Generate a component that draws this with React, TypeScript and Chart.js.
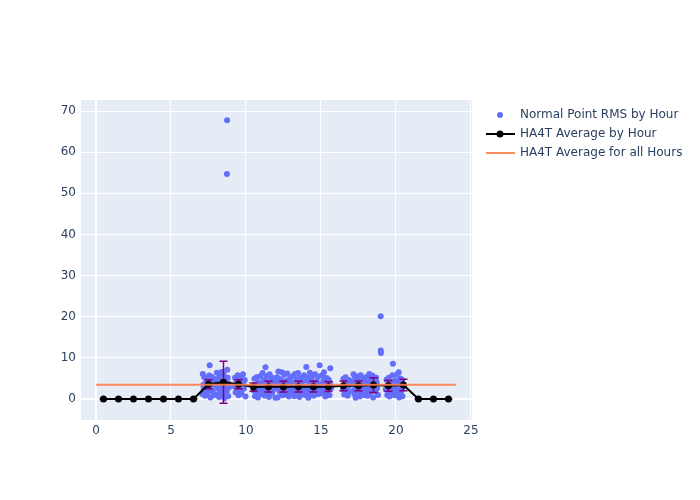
import React, { useEffect, useRef } from "react";
import { Chart, registerables } from "chart.js";

Chart.register(...registerables);

// ---- Data ----
const rmsHours: number[] = [
  // hour 7
  7.08, 7.12, 7.18, 7.22, 7.27, 7.31, 7.36, 7.41, 7.45, 7.5, 7.55, 7.58, 7.63, 7.68, 7.72, 7.78, 7.83, 7.9,
  7.15, 7.34, 7.52, 7.7, 7.86,
  // hour 8
  7.97, 8.02, 8.06, 8.11, 8.15, 8.2, 8.24, 8.29, 8.33, 8.38, 8.42, 8.47, 8.51, 8.56, 8.6, 8.64, 8.69, 8.72, 8.75, 8.78, 8.82, 8.86,
  8.09, 8.27, 8.44, 8.62, 8.8,
  8.74, 8.73,
  // hour 9
  9.22, 9.27, 9.31, 9.36, 9.4, 9.45, 9.5, 9.55, 9.6, 9.65, 9.7, 9.75, 9.8, 9.86, 9.92, 9.97,
  9.34, 9.58, 9.83,
  // hour 10
  10.52, 10.56, 10.6, 10.64, 10.68, 10.72, 10.76, 10.8, 10.84, 10.88, 10.93, 10.97,
  10.62, 10.82,
  // hour 11
  11.02, 11.07, 11.11, 11.16, 11.2, 11.25, 11.3, 11.34, 11.39, 11.43, 11.48, 11.53, 11.58, 11.63, 11.68, 11.73, 11.78, 11.84, 11.9, 11.96,
  11.05, 11.22, 11.37, 11.55, 11.71, 11.88,
  // hour 12
  12.02, 12.07, 12.12, 12.16, 12.21, 12.26, 12.3, 12.35, 12.4, 12.45, 12.5, 12.55, 12.6, 12.65, 12.7, 12.75, 12.8, 12.86, 12.91, 12.96,
  12.09, 12.24, 12.42, 12.58, 12.77, 12.93,
  // hour 13
  13.02, 13.07, 13.12, 13.17, 13.22, 13.27, 13.32, 13.37, 13.42, 13.47, 13.52, 13.57, 13.62, 13.67, 13.72, 13.77, 13.82, 13.87, 13.92, 13.97,
  13.1, 13.29, 13.45, 13.6, 13.79, 13.95,
  // hour 14
  14.02, 14.06, 14.11, 14.16, 14.21, 14.26, 14.31, 14.36, 14.41, 14.46, 14.51, 14.56, 14.61, 14.66, 14.71, 14.76, 14.81, 14.86, 14.91, 14.96,
  14.08, 14.24, 14.43, 14.59, 14.74, 14.89,
  // hour 15
  15.02, 15.06, 15.11, 15.15, 15.2, 15.24, 15.29, 15.33, 15.38, 15.42, 15.47, 15.52, 15.57, 15.62, 15.67,
  15.09, 15.27, 15.45, 15.6,
  // hour 16
  16.46, 16.5, 16.55, 16.59, 16.64, 16.68, 16.73, 16.78, 16.83, 16.88,
  16.53, 16.71, 16.86,
  // hour 17
  17.12, 17.17, 17.22, 17.27, 17.31, 17.36, 17.41, 17.46, 17.5, 17.55, 17.6, 17.65, 17.7, 17.75, 17.8, 17.85, 17.9, 17.95,
  17.2, 17.39, 17.58, 17.77, 17.92,
  // hour 18
  18.02, 18.07, 18.12, 18.17, 18.22, 18.27, 18.33, 18.38, 18.43, 18.48, 18.53, 18.58, 18.63, 18.68, 18.74, 18.8,
  18.1, 18.3, 18.5, 18.71,
  18.98, 18.99, 19.0,
  // hour 19
  19.32, 19.37, 19.42, 19.47, 19.52, 19.57, 19.62, 19.67, 19.72, 19.77, 19.8, 19.85, 19.9, 19.95,
  19.4, 19.6, 19.83,
  // hour 20
  20.02, 20.06, 20.1, 20.14, 20.18, 20.22, 20.26, 20.3, 20.34, 20.38, 20.43, 20.48,
  20.08, 20.24, 20.41,
];

const rmsValues: number[] = [
  // hour 7
  1.2, 6.1, 2.4, 5.3, 0.8, 3.9, 2.7, 4.6, 1.6, 3.2, 5.7, 8.2, 0.4, 2.9, 4.1, 1.9, 5.0, 3.5,
  3.4, 1.1, 2.2, 5.4, 0.9,
  // hour 8
  4.8, 1.1, 6.4, 2.6, 3.7, 0.5, 5.5, 2.0, 4.3, 6.6, 1.4, 3.0, 5.9, 0.2, 2.3, 4.9, 3.4, 1.8, 7.1, 5.2, 0.7, 2.8,
  4.0, 3.6, 2.4, 1.2, 3.9,
  67.8, 54.7,
  // hour 9
  3.1, 5.2, 1.6, 4.4, 2.2, 5.8, 0.9, 3.6, 2.8, 4.9, 1.3, 3.9, 6.0, 2.5, 4.6, 0.6,
  3.3, 1.9, 4.2,
  // hour 10
  2.1, 4.9, 0.7, 3.4, 1.5, 5.3, 2.8, 0.4, 4.1, 1.9, 3.0, 5.6,
  2.5, 3.7,
  // hour 11
  3.6, 1.2, 6.3, 2.5, 4.7, 0.8, 7.7, 3.1, 5.6, 1.9, 4.2, 0.5, 6.0, 2.8, 3.9, 1.4, 5.1, 2.2, 4.5, 0.3,
  2.0, 3.3, 1.0, 3.5, 4.8, 2.9,
  // hour 12
  2.6, 5.3, 0.4, 6.7, 3.5, 1.7, 4.8, 2.9, 6.5, 0.9, 3.8, 5.9, 2.2, 4.4, 1.1, 6.2, 3.2, 0.6, 4.9, 2.4,
  3.9, 2.8, 1.6, 3.1, 4.1, 1.4,
  // hour 13
  4.1, 1.5, 5.6, 2.9, 0.7, 6.1, 3.4, 4.8, 1.9, 6.3, 2.5, 0.5, 5.1, 3.7, 1.2, 4.5, 2.2, 5.8, 3.0, 0.9,
  2.7, 1.8, 3.9, 1.4, 3.2, 4.6,
  // hour 14
  7.8, 2.3, 5.2, 0.3, 3.9, 6.4, 1.6, 4.6, 2.8, 5.7, 0.8, 3.3, 6.0, 2.0, 4.3, 1.2, 5.4, 3.6, 8.2, 2.7,
  1.5, 3.1, 1.9, 2.5, 3.4, 1.3,
  // hour 15
  3.1, 5.8, 1.4, 4.4, 6.5, 2.3, 0.6, 3.8, 5.1, 1.9, 3.3, 4.7, 0.9, 7.5, 2.6,
  2.9, 1.8, 2.2, 4.0,
  // hour 16
  2.4, 4.9, 1.1, 3.6, 5.3, 2.0, 4.2, 0.8, 3.1, 4.6,
  3.0, 2.7, 1.7,
  // hour 17
  3.8, 6.0, 1.2, 4.9, 0.3, 2.7, 5.5, 3.4, 1.8, 4.4, 0.6, 5.8, 2.5, 3.9, 1.4, 5.1, 2.9, 4.2,
  2.2, 4.1, 3.0, 1.9, 0.9,
  // hour 18
  2.2, 5.4, 0.8, 3.7, 6.1, 1.5, 4.5, 2.9, 5.7, 0.4, 3.3, 4.8, 1.9, 5.2, 2.6, 1.0,
  3.1, 2.1, 3.9, 4.0,
  20.1, 11.8, 11.2,
  // hour 19
  2.3, 4.7, 1.0, 3.5, 5.2, 0.6, 2.9, 4.2, 1.7, 5.8, 8.6, 3.1, 0.9, 4.5,
  3.0, 2.0, 2.6,
  // hour 20
  3.2, 5.9, 1.3, 4.4, 6.5, 0.4, 2.6, 5.0, 1.8, 3.8, 0.7, 2.9,
  2.2, 3.6, 4.6,
];

const avgHours: number[] = [
  0.5, 1.5, 2.5, 3.5, 4.5, 5.5, 6.5, 7.5, 8.5, 9.5, 10.5, 11.5,
  12.5, 13.5, 14.5, 15.5, 16.5, 17.5, 18.5, 19.5, 20.5, 21.5, 22.5, 23.5,
];
const avgValues: number[] = [
  0, 0, 0, 0, 0, 0, 0, 3.6, 4.1, 3.6, 2.9, 3.0,
  3.0, 3.0, 3.0, 3.0, 3.2, 3.2, 3.4, 3.2, 3.4, 0, 0, 0,
];
const avgErrors: number[] = [
  0, 0, 0, 0, 0, 0, 0, 1.1, 5.1, 1.1, 1.0, 1.3,
  1.3, 1.3, 1.3, 1.2, 1.2, 1.2, 1.8, 1.3, 1.4, 0, 0, 0,
];

const overallHours: number[] = [0, 24];
const overallValue = 3.45;

const xTicks: number[] = [0, 5, 10, 15, 20, 25];
const yTicks: number[] = [0, 10, 20, 30, 40, 50, 60, 70];

const legendLabels: string[] = [
  "Normal Point RMS by Hour",
  "HA4T Average by Hour",
  "HA4T Average for all Hours",
];

// ---- Styles ----
const FONT = "'DejaVu Sans', sans-serif";
const TEXT_COLOR = "#2a3f5f";
const SCATTER_COLOR = "#636EFA";
const ERR_COLOR = "#800080";
const OVERALL_COLOR = "rgba(255,127,80,0.9)";

export default function App() {
  const canvasRef = useRef<HTMLCanvasElement | null>(null);

  useEffect(() => {
    document.body.style.margin = "0";
    const canvas = canvasRef.current;
    if (!canvas) return;

    const bgPlugin = {
      id: "plotBg",
      beforeDraw(chart: any) {
        const { ctx, chartArea } = chart;
        ctx.save();
        ctx.fillStyle = "#ffffff";
        ctx.fillRect(0, 0, chart.width, chart.height);
        ctx.fillStyle = "#E5ECF6";
        ctx.fillRect(chartArea.left, chartArea.top, chartArea.right - chartArea.left, chartArea.bottom - chartArea.top);
        ctx.restore();
      },
    };

    const errPlugin = {
      id: "errBars",
      beforeDatasetDraw(chart: any, args: any) {
        if (args.index !== 1) return;
        const { ctx, chartArea } = chart;
        const xs = chart.scales.x;
        const ys = chart.scales.y;
        ctx.save();
        ctx.beginPath();
        ctx.rect(chartArea.left, chartArea.top, chartArea.right - chartArea.left, chartArea.bottom - chartArea.top);
        ctx.clip();
        ctx.strokeStyle = ERR_COLOR;
        ctx.lineWidth = 1.5;
        const half = 4;
        avgHours.forEach((h, i) => {
          const px = xs.getPixelForValue(h);
          const top = ys.getPixelForValue(avgValues[i] + avgErrors[i]);
          const bot = ys.getPixelForValue(avgValues[i] - avgErrors[i]);
          ctx.beginPath();
          ctx.moveTo(px, top);
          ctx.lineTo(px, bot);
          ctx.moveTo(px - half, top);
          ctx.lineTo(px + half, top);
          ctx.moveTo(px - half, bot);
          ctx.lineTo(px + half, bot);
          ctx.stroke();
        });
        ctx.restore();
      },
    };

    const legendPlugin = {
      id: "customLegend",
      afterDraw(chart: any) {
        const { ctx } = chart;
        ctx.save();
        ctx.font = `12px ${FONT}`;
        ctx.textBaseline = "middle";
        ctx.textAlign = "left";
        const ys = [115, 134, 153];
        ctx.fillStyle = SCATTER_COLOR;
        ctx.beginPath();
        ctx.arc(500, ys[0], 3, 0, Math.PI * 2);
        ctx.fill();
        ctx.strokeStyle = "#000000";
        ctx.lineWidth = 2;
        ctx.beginPath();
        ctx.moveTo(486, ys[1]);
        ctx.lineTo(515, ys[1]);
        ctx.stroke();
        ctx.fillStyle = "#000000";
        ctx.beginPath();
        ctx.arc(500, ys[1], 3.5, 0, Math.PI * 2);
        ctx.fill();
        ctx.strokeStyle = OVERALL_COLOR;
        ctx.beginPath();
        ctx.moveTo(486, ys[2]);
        ctx.lineTo(515, ys[2]);
        ctx.stroke();
        ctx.fillStyle = TEXT_COLOR;
        legendLabels.forEach((t, i) => ctx.fillText(t, 520, ys[i]));
        ctx.restore();
      },
    };

    const chart = new Chart(canvas, {
      type: "scatter",
      data: {
        datasets: [
          {
            label: legendLabels[2],
            type: "line",
            data: overallHours.map((h) => ({ x: h, y: overallValue })),
            borderColor: OVERALL_COLOR,
            borderWidth: 2,
            pointRadius: 0,
            showLine: true,
            fill: false,
            order: 1,
          } as any,
          {
            label: legendLabels[1],
            type: "line",
            data: avgHours.map((h, i) => ({ x: h, y: avgValues[i] })),
            borderColor: "#000000",
            backgroundColor: "#000000",
            borderWidth: 2,
            pointRadius: 3.5,
            pointBorderWidth: 0,
            showLine: true,
            fill: false,
            tension: 0,
            order: 2,
          } as any,
          {
            label: legendLabels[0],
            data: rmsHours.map((h, i) => ({ x: h, y: rmsValues[i] })),
            backgroundColor: SCATTER_COLOR,
            borderWidth: 0,
            pointRadius: 3,
            order: 3,
          },
        ],
      },
      options: {
        animation: false,
        responsive: false,
        maintainAspectRatio: false,
        layout: { padding: { top: 100, right: 228, left: 0, bottom: 0 } },
        plugins: {
          legend: { display: false },
          tooltip: { enabled: false },
        },
        scales: {
          x: {
            type: "linear",
            min: -1,
            max: 25.07,
            afterFit(scale: any) {
              scale.height = 80;
            },
            afterBuildTicks(scale: any) {
              scale.ticks = xTicks.map((v) => ({ value: v }));
            },
            border: { display: false },
            grid: {
              color: "#ffffff",
              lineWidth: (c: any) => (c.tick && c.tick.value === 0 ? 2 : 1),
              drawTicks: false,
            },
            ticks: {
              color: TEXT_COLOR,
              font: { family: FONT, size: 12 },
              padding: 4,
              maxRotation: 0,
            },
          },
          y: {
            type: "linear",
            min: -5.1,
            max: 72.7,
            afterFit(scale: any) {
              scale.width = 81;
            },
            afterBuildTicks(scale: any) {
              scale.ticks = yTicks.map((v) => ({ value: v }));
            },
            border: { display: false },
            grid: {
              color: "#ffffff",
              lineWidth: (c: any) => (c.tick && c.tick.value === 0 ? 2 : 1),
              drawTicks: false,
            },
            ticks: {
              color: TEXT_COLOR,
              font: { family: FONT, size: 12 },
              padding: 5,
            },
          },
        },
      },
      plugins: [bgPlugin, errPlugin, legendPlugin],
    });

    return () => chart.destroy();
  }, []);

  return (
    <div style={{ position: "absolute", left: 0, top: 0, width: 700, height: 500 }}>
      <canvas ref={canvasRef} width={700} height={500} style={{ width: 700, height: 500 }} />
    </div>
  );
}
